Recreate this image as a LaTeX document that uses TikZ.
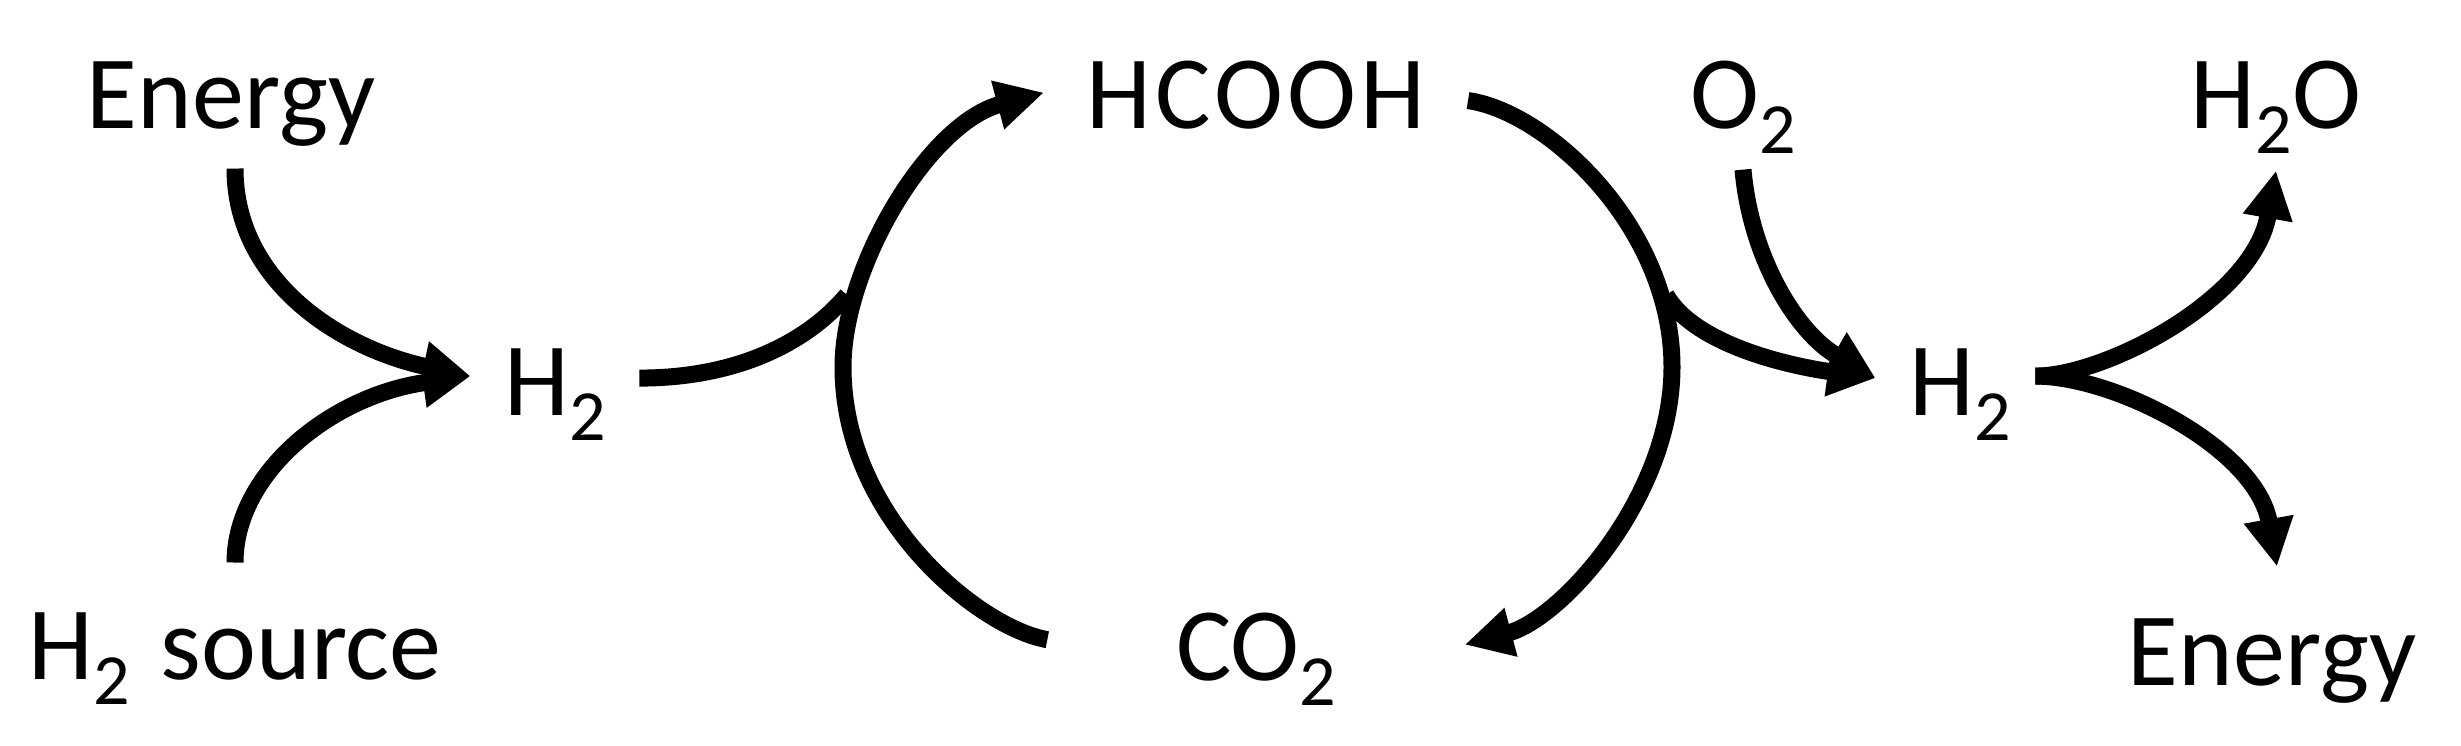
\documentclass[tikz,border=0pt]{standalone}
\usepackage{fontspec}
\setmainfont{Carlito}
\usetikzlibrary{arrows.meta}
\newcommand{\subnum}[1]{\raisebox{-0.24em}{\fontsize{20.5}{24}\selectfont #1}}

\begin{document}
\begin{tikzpicture}[>={Triangle[length=4.8mm,width=4.7mm]}, line cap=butt, line join=round]
\tikzset{
	chem/.style={anchor=base, inner sep=2.1mm, font=\fontsize{29.6}{36}\selectfont},
	flow/.style={line width=1.7mm, black}
}
\useasboundingbox (0,0) rectangle (24.61,7.46);

% ==== Left: production ====
\node[chem] (enA) at (2.31,6.17) {Energy};
\node[chem] (srcA) at (2.35,0.66) {H\subnum{2}\hspace{0.3em}source};
\node[chem, inner sep=3.3mm] (hA) at (5.55,3.30) {H\subnum{2}};

% ==== Middle: cycle ====
\node[chem, inner xsep=4.2mm] (hcooh) at (12.56,6.17) {\addfontfeatures{LetterSpace=4}HCOOH};
\node[chem, inner xsep=12.8mm] (co2) at (12.56,0.65) {CO\subnum{2}};
\coordinate (bendA) at (8.43,3.79);
\coordinate (bendB) at (16.72,3.79);
\coordinate (joinA) at (8.47,4.51);
\coordinate (joinB) at (16.66,4.51);

% ==== Right: consumption ====
\node[chem] (oxy) at (17.43,6.17) {O\subnum{2}};
\node[chem, inner sep=3.3mm] (hB) at (19.60,3.30) {H\subnum{2}};
\node[chem] (water) at (22.76,6.17) {H\subnum{2}O};
\node[chem] (enB) at (22.72,0.60) {Energy};

% arrows into first H2
\draw[flow,->] ([xshift=0.4mm]enA.south) .. controls +(-90:1.15) and +(168:1.3) .. ([yshift=1.9mm]hA.west);
\draw[flow,->] ([yshift=2.9mm]srcA.north) .. controls +(90:0.9) and +(-172:1.4) .. ([yshift=1.9mm]hA.west);
\draw[flow] ([yshift=1.7mm]hA.east) .. controls +(0:1.0) and +(-130:0.6) .. (joinA);

% the two halves of the cycle
\draw[flow,->] ([yshift=2mm]co2.west) .. controls +(170:0.7) and +(-90:1.5) .. (bendA)
	.. controls +(90:1.0) and +(-165:1.2) .. ([yshift=0.3mm]hcooh.west);
\draw[flow,->] ([yshift=-0.5mm]hcooh.east) .. controls +(-8:0.8) and +(90:1.4) .. (bendB)
	.. controls +(-90:1.3) and +(15:1.0) .. ([yshift=1.5mm]co2.east);

% arrows into second H2 and out of it
\draw[flow,->] (joinB) .. controls +(-60:0.6) and +(172:0.8) .. ([yshift=1.7mm]hB.west);
\draw[flow,->] ([yshift=0.6mm]oxy.south) .. controls +(-85:0.9) and +(150:0.9) .. ([yshift=1.7mm]hB.west);
\draw[flow,->] ([xshift=-0.9mm,yshift=1.9mm]hB.east) .. controls +(0:0.7) and +(-100:1.3) .. ([yshift=0.5mm]water.south);
\draw[flow,->] ([xshift=-0.9mm,yshift=1.9mm]hB.east) .. controls +(0:0.8) and +(100:1.2) .. ([xshift=0.5mm,yshift=3.1mm]enB.north);

\end{tikzpicture}
\end{document}
